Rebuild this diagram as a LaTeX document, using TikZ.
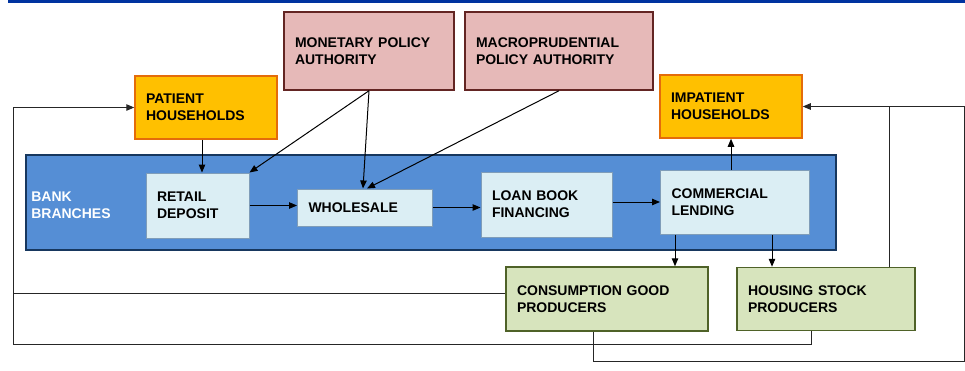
\documentclass[tikz,border=0pt]{standalone}
\usepackage{fontspec}
\setmainfont{Liberation Sans}
\usepackage{xcolor}
\usetikzlibrary{arrows.meta, positioning}

\definecolor{policyfill}{HTML}{E6B9B8}
\definecolor{policyline}{HTML}{632523}
\definecolor{housefill}{HTML}{FFC000}
\definecolor{houseline}{HTML}{E46C0A}
\definecolor{bankfill}{HTML}{558ED5}
\definecolor{bankline}{HTML}{17375E}
\definecolor{branchfill}{HTML}{DBEEF4}
\definecolor{branchline}{HTML}{7F9DB9}
\definecolor{prodfill}{HTML}{D7E4BD}
\definecolor{prodline}{HTML}{4F6228}
\definecolor{topblue}{HTML}{0033A0}

\begin{document}
\begin{tikzpicture}[
  x=1pt, y=-1pt,
  box/.style={draw, align=left, inner xsep=11pt, inner ysep=0pt,
              font=\fontsize{14}{17}\selectfont\bfseries},
  policy/.style={box, fill=policyfill, draw=policyline, line width=1.5pt},
  house/.style={box, fill=housefill, draw=houseline, line width=1.5pt},
  bank/.style={draw=bankline, fill=bankfill, line width=1.8pt},
  banklabel/.style={align=left, text=white, inner xsep=6pt,
                    font=\fontsize{14}{17}\selectfont\bfseries},
  branch/.style={box, fill=branchfill, draw=branchline, line width=1pt},
  producer/.style={box, fill=prodfill, draw=prodline, line width=1.5pt},
  arrow/.style={-{Triangle[length=8pt,width=6.5pt]}, line width=1pt},
  feed/.style={line width=1pt, draw=black!85}
]
\useasboundingbox (0,0) rectangle (965,370);
\draw[topblue, line width=2.6pt] (8,1.3) -- (965,1.3);

% bank branches and its four desks
\node[bank, minimum width=810pt, minimum height=95pt] (bank) at (431,202.5) {};
\node[banklabel, right=0pt of bank.west, yshift=-3pt] (banktext) {BANK\\BRANCHES};

\node[branch, text width=81pt, minimum height=65pt] (retail) at (197.5,205.5) {RETAIL\\DEPOSIT};
\node[branch, text width=113pt, minimum height=37pt, right=47.5pt of retail, yshift=-2pt] (wholesale) {WHOLESALE};
\node[branch, text width=109pt, minimum height=65pt, right=47.5pt of wholesale, yshift=3pt] (loanbook) {LOAN BOOK\\FINANCING};
\node[branch, text width=127pt, minimum height=64pt, right=47.5pt of loanbook, yshift=2.5pt] (commercial) {COMMERCIAL\\LENDING};

% authorities and households
\node[policy, text width=148pt, minimum height=78pt] (monetary) at (369,51) {MONETARY POLICY\\AUTHORITY};
\node[policy, text width=166pt, minimum height=78pt, right=9.5pt of monetary] (macro) {MACROPRUDENTIAL\\POLICY AUTHORITY};
\node[house, text width=120pt, minimum height=63pt] (patient) at (206,107.5) {PATIENT\\HOUSEHOLDS};
\node[house, text width=120pt, minimum height=63pt] (impatient) at (731,106.5) {IMPATIENT\\HOUSEHOLDS};

% producers
\node[producer, text width=180pt, minimum height=64pt] (consumption) at (607,299) {CONSUMPTION GOOD\\PRODUCERS};
\node[producer, text width=156pt, minimum height=63pt, right=27.5pt of consumption] (housing) {HOUSING STOCK\\PRODUCERS};

\draw[arrow] ([xshift=-4pt]patient.south) -- ([xshift=-4pt]patient.south |- retail.north);
\draw[arrow] (monetary.south) -- (retail.north east);
\draw[arrow] (monetary.south) -- ([xshift=-2pt]wholesale.north);
\draw[arrow] (macro.south) -- ([xshift=2pt]wholesale.north);
\draw[arrow] (retail.east) -- (retail.east -| wholesale.west);
\draw[arrow] (wholesale.east) -- (wholesale.east -| loanbook.west);
\draw[arrow] (commercial.west -| loanbook.east) -- (commercial.west);
\draw[arrow] (impatient.south |- commercial.north) -- (impatient.south);
\draw[arrow] ([xshift=15pt]commercial.south west) -- ([xshift=15pt]commercial.south west |- consumption.north);
\draw[arrow] ([xshift=112pt]commercial.south west) -- ([xshift=112pt]commercial.south west |- housing.north);

% feedback loops
\coordinate (westrail) at (13,344);
\coordinate (eastrail) at (964,361);
\draw[feed] ([yshift=6pt]consumption.west) -| (westrail);
\draw[feed, arrow] ([xshift=75pt]housing.south west) |- (westrail) |- (patient.west);
\draw[feed, arrow] ([xshift=88pt]consumption.south west) |- (eastrail) |- (impatient.east);
\draw[feed] ([xshift=153pt]housing.north west) -- ([xshift=153pt]housing.north west |- impatient.east);
\end{tikzpicture}
\end{document}
